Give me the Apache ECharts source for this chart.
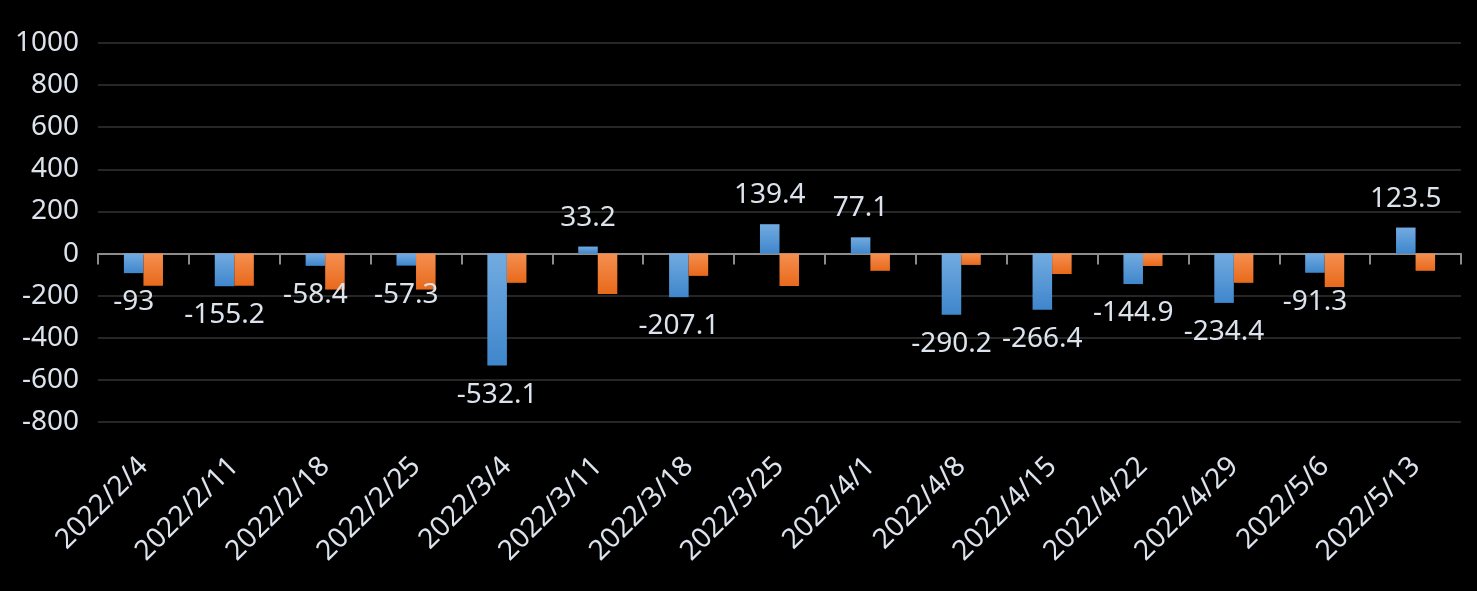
<!DOCTYPE html>
<html>
<head>
<meta charset="utf-8">
<script src="https://cdn.jsdelivr.net/npm/echarts@6/dist/echarts.min.js"></script>
<style>
html,body{margin:0;padding:0;background:#000;}
#c{width:1477px;height:591px;}
</style>
</head>
<body>
<div id="c"></div>
<script>
const categories = ['2022/2/4','2022/2/11','2022/2/18','2022/2/25','2022/3/4','2022/3/11','2022/3/18','2022/3/25','2022/4/1','2022/4/8','2022/4/15','2022/4/22','2022/4/29','2022/5/6','2022/5/13'];
const blueValues = [-93,-155.2,-58.4,-57.3,-532.1,33.2,-207.1,139.4,77.1,-290.2,-266.4,-144.9,-234.4,-91.3,123.5];
const orangeValues = [-153,-153,-171,-171,-139,-192,-106,-154,-82,-54,-97,-59,-139,-159,-82];
const yTicks = {min:-800, max:1000, interval:200};

const FONT = '"Noto Sans", "Open Sans", sans-serif';
const TXT = '#dce3ec';
const chart = echarts.init(document.getElementById('c'));
chart.setOption({
  backgroundColor:'#000',
  animation:false,
  grid:{left:98, right:16, top:43, bottom:169},
  xAxis:[{
    type:'category', data:categories, position:'bottom',
    axisLine:{show:false, onZero:false}, axisTick:{show:false},
    axisLabel:{rotate:45, interval:0, color:TXT, fontSize:28, fontFamily:FONT, margin:40}
  },{
    type:'category', data:categories, position:'top',
    axisLine:{show:true, onZero:true, lineStyle:{color:'#8c8c8c', width:2}},
    axisTick:{show:true, inside:true, length:11, lineStyle:{color:'#8c8c8c', width:2}},
    axisLabel:{show:false}
  }],
  yAxis:{
    type:'value', min:yTicks.min, max:yTicks.max, interval:yTicks.interval,
    axisLine:{show:false}, axisTick:{show:false},
    axisLabel:{color:TXT, fontSize:28, fontFamily:FONT, margin:19, formatter:v=>String(v)},
    splitLine:{lineStyle:{color:'#262626', width:2}}
  },
  series:[{
    type:'bar', xAxisIndex:0,
    data:blueValues.map(v=>({value:v, label:{position:v>=0?'top':'bottom'}})),
    barGap:'0%', barCategoryGap:'57%',
    itemStyle:{color:new echarts.graphic.LinearGradient(0,0,0,1,[{offset:0,color:'#72abe0'},{offset:1,color:'#3f86cc'}])},
    label:{show:true, color:TXT, fontSize:28, fontFamily:FONT, distance:15}
  },{
    type:'bar', xAxisIndex:0,
    data:orangeValues,
    barGap:'0%', barCategoryGap:'57%',
    itemStyle:{color:new echarts.graphic.LinearGradient(0,0,0,1,[{offset:0,color:'#f58f50'},{offset:1,color:'#e8691b'}])}
  }]
});
</script>
</body>
</html>
